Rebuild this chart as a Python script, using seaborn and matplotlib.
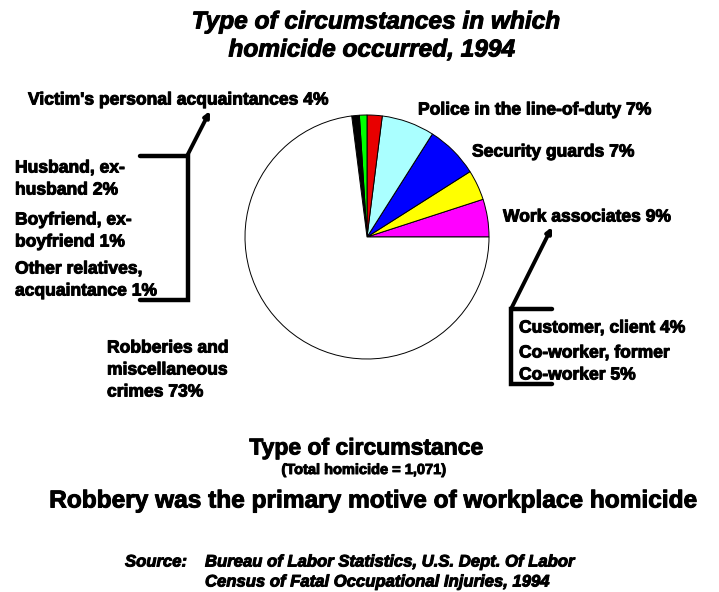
"""Pie of homicide circumstances, 1994."""
import matplotlib
matplotlib.use("Agg")
import matplotlib.pyplot as plt
import matplotlib.patheffects as pe
import seaborn as sns

sns.set_theme(style="white")
plt.rcParams["font.family"] = ["Liberation Sans", "DejaVu Sans"]
plt.rcParams["text.color"] = "black"

# slices, counter-clockwise from 3 o'clock
slice_names = ["Co-worker, former co-worker", "Customer, client",
               "Security guards", "Police in the line-of-duty",
               "Husband, ex-husband", "Boyfriend, ex-boyfriend",
               "Other relatives, acquaintance",
               "Robberies and miscellaneous crimes"]
slice_pct = [5, 4, 7, 7, 2, 1, 1, 73]
slice_colors = ["#FF00FF", "#FFFF00", "#0000FF", "#AAFFFF",
                "#E80000", "#00FF00", "#000000", "#FFFFFF"]

W, H = 719, 592
fig = plt.figure(figsize=(W / 100, H / 100), dpi=100)
fig.patch.set_facecolor("white")

# pie axes: centre (367, 237) px, radius 122 px
cx, cy, r = 367, 237, 122
ax = fig.add_axes([(cx - r) / W, (H - cy - r) / H, 2 * r / W, 2 * r / H])
ax.pie(slice_pct, colors=slice_colors, startangle=0, counterclock=True,
       wedgeprops=dict(edgecolor="black", linewidth=0.7))
ax.set_xlim(-1, 1); ax.set_ylim(-1, 1)
ax.set_aspect("auto")
ax.axis("off")

# overlay in pixel coords for labels and brackets
ov = fig.add_axes([0, 0, 1, 1])
ov.set_xlim(0, W); ov.set_ylim(H, 0)
ov.axis("off")
ov.patch.set_alpha(0)

heavy = [pe.withStroke(linewidth=0.7, foreground="black")]
lab = dict(fontsize=12.6, fontweight="bold", va="center", color="black",
           path_effects=heavy)
bi = dict(fontweight="bold", style="italic", va="center", color="black",
          path_effects=heavy)

ov.text(375, 22, "Type of circumstances in which", ha="center",
        fontsize=17.6, **bi)
ov.text(371, 50, "homicide occurred, 1994", ha="center", fontsize=17.6, **bi)

ov.text(28, 100, "Victim's personal acquaintances 4%", ha="left", **lab)
ov.text(418, 110, "Police in the line-of-duty 7%", ha="left", **lab)
ov.text(472, 152, "Security guards 7%", ha="left", **lab)
ov.text(503, 217, "Work associates 9%", ha="left", **lab)

left_lines = [("Husband, ex-", 168), ("husband 2%", 190),
              ("Boyfriend, ex-", 220), ("boyfriend 1%", 242),
              ("Other relatives,", 269), ("acquaintance 1%", 291)]
for txt, y in left_lines:
    ov.text(15, y, txt, ha="left", **lab)

right_lines = [("Customer, client 4%", 328), ("Co-worker, former", 353),
               ("Co-worker 5%", 375)]
for txt, y in right_lines:
    ov.text(519, y, txt, ha="left", **lab)

for txt, y in [("Robberies and", 348), ("miscellaneous", 370),
               ("crimes 73%", 392)]:
    ov.text(107, y, txt, ha="left", **lab)

# brackets and arrows
ov.plot([140, 187.5, 187.5, 140], [156, 156, 300, 300], color="black",
        lw=3.2, solid_joinstyle="miter")
ov.annotate("", xy=(210, 111), xytext=(187, 156),
            arrowprops=dict(arrowstyle="-|>", lw=2.8, color="black",
                            mutation_scale=8, shrinkA=0, shrinkB=0))
ov.plot([552, 511, 511, 552], [309, 309, 384, 384], color="black",
        lw=3.2, solid_joinstyle="miter")
ov.annotate("", xy=(552, 227), xytext=(511, 309),
            arrowprops=dict(arrowstyle="-|>", lw=2.8, color="black",
                            mutation_scale=8, shrinkA=0, shrinkB=0))

# bottom captions
ov.text(366, 448, "Type of circumstance", ha="center", va="center",
        fontsize=16.5, fontweight="bold", path_effects=heavy)
ov.text(364, 470, "(Total homicide = 1,071)", ha="center", va="center",
        fontsize=10.5, fontweight="bold", path_effects=heavy)
ov.text(373, 501, "Robbery was the primary motive of workplace homicide",
        ha="center", va="center", fontsize=17.6, fontweight="bold",
        path_effects=heavy)
ov.text(125, 562, "Source:", ha="left", fontsize=12, **bi)
ov.text(205, 562, "Bureau of Labor Statistics, U.S. Dept. Of Labor",
        ha="left", fontsize=12, **bi)
ov.text(205, 582, "Census of Fatal Occupational Injuries, 1994",
        ha="left", fontsize=12, **bi)

fig.savefig("out.png", dpi=100, facecolor="white")
